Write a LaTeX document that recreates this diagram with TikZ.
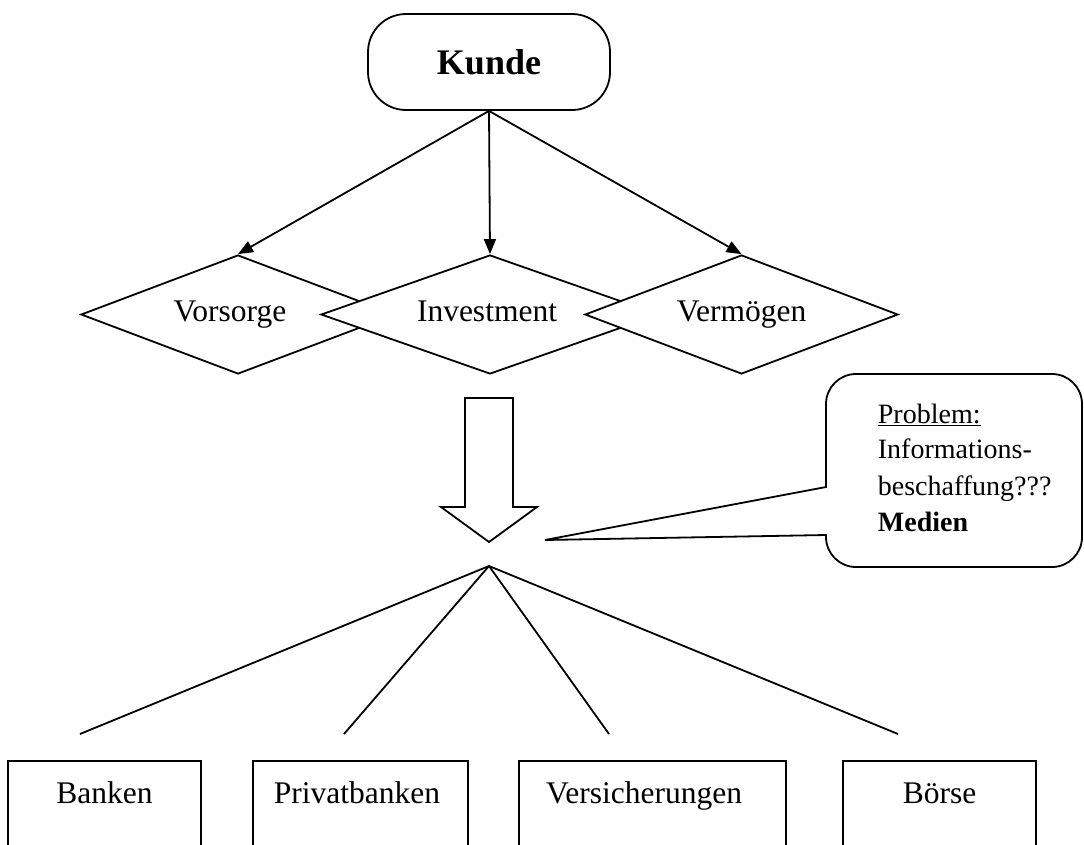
\documentclass[tikz,border=0pt]{standalone}
\usepackage{fontspec}
\setmainfont{Liberation Serif}
\usetikzlibrary{shapes.geometric,arrows.meta}
\begin{document}
\begin{tikzpicture}[x=1pt,y=-1pt,line width=1.8pt,
  every node/.style={inner sep=0pt},
  nodefont/.style={font=\fontsize{31.5}{36}\selectfont},
  notefont/.style={font=\fontsize{28}{36}\selectfont},
  choice/.style={diamond, draw, fill=white, aspect=2.6, minimum height=119pt, nodefont, text height=21pt, text depth=7pt},
  startbox/.style={rectangle, draw, rounded corners=38pt, minimum width=242pt, minimum height=96pt, font=\fontsize{36}{40}\selectfont\bfseries},
  orgbox/.style={rectangle, draw, minimum height=130pt, anchor=north},
  arr/.style={-{Triangle[length=15pt,width=12pt]}},
  shape line/.style={line join=miter}
]
\useasboundingbox (0,0) rectangle (1084,844);
\clip (0,0) rectangle (1084,844);

% top node
\node[startbox] (kunde) at (489,62) {Kunde};

% diamonds
\node[choice, minimum width=314pt] (vorsorge) at (238,314.5) {\hspace*{-16pt}Vorsorge};
\node[choice, minimum width=338pt] (investment) at (490,314.5) {\hspace*{-6pt}Investment};
\node[choice, minimum width=313pt] (vermoegen) at (741.5,314.5) {Vermögen};

\draw[arr] (kunde.south) -- (vorsorge.north);
\draw[arr] (kunde.south) -- (investment.north);
\draw[arr] (kunde.south) -- (vermoegen.north);

% block arrow
\draw[shape line] (465,398) -- (513,398) -- (513,507) -- (537,507) -- (489,542) -- (441,507) -- (465,507) -- cycle;

% callout
\coordinate (tip) at (545,540);
\draw[shape line] (826,487) -- (826,404) arc[start angle=180, end angle=270, radius=30]
  -- (1052,374) arc[start angle=270, end angle=360, radius=30]
  -- (1082,537) arc[start angle=0, end angle=90, radius=30]
  -- (856,567) arc[start angle=90, end angle=180, radius=30]
  -- (826,535) -- (tip) -- cycle;
\node[notefont, anchor=base west] (p1) at (877,423) {\underline{Problem:}};
\node[notefont, anchor=base west] (p2) at (877,458) {Informations-};
\node[notefont, anchor=base west] (p3) at (877,495) {beschaffung???};
\node[notefont, anchor=base west] (p4) at (877,531) {\textbf{Medien}};

% fan lines
\coordinate (apex) at (489,566);
\coordinate (e1) at (80,734);
\coordinate (e2) at (344,734);
\coordinate (e3) at (609,734);
\coordinate (e4) at (898,734);
\draw (apex) -- (e1);
\draw (apex) -- (e2);
\draw (apex) -- (e3);
\draw (apex) -- (e4);

% boxes
\node[orgbox, minimum width=193pt] (banken) at (104.5,760) {};
\node[orgbox, minimum width=215pt] (privat) at (360.5,760) {};
\node[orgbox, minimum width=267pt] (versich) at (652.5,760) {};
\node[orgbox, minimum width=193pt] (boerse) at (939.5,760) {};
\node[nodefont, anchor=base] (bankent) at (104.5,803) {Banken};
\node[nodefont, anchor=base] (privatt) at (357,803) {Privatbanken};
\node[nodefont, anchor=base] (versicht) at (644,803) {Versicherungen};
\node[nodefont, anchor=base] (boerset) at (939.5,803) {Börse};
\end{tikzpicture}
\end{document}
